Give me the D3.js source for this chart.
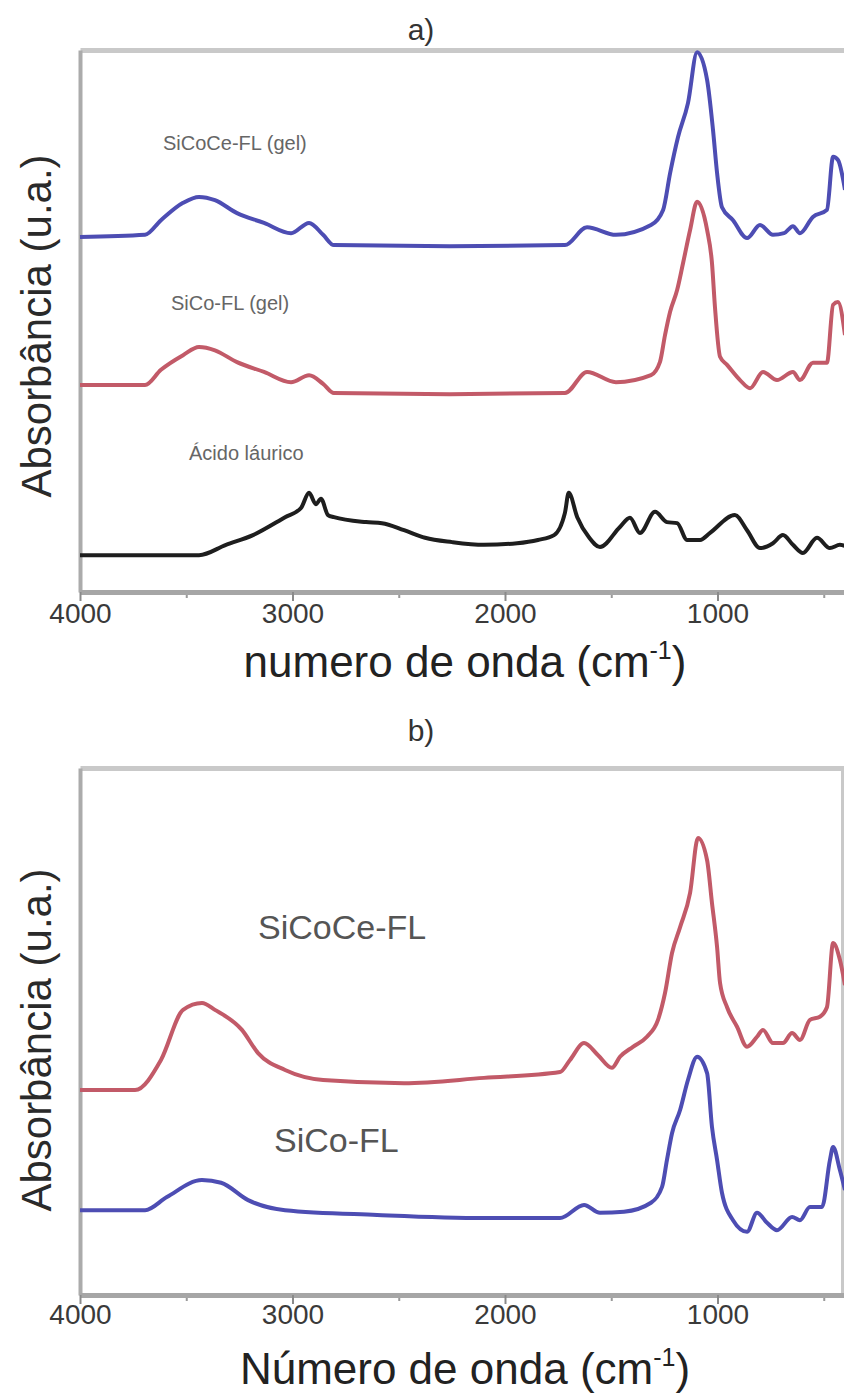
<!DOCTYPE html>
<html>
<head>
<meta charset="utf-8">
<script src="https://cdn.jsdelivr.net/npm/d3@7"></script>
<style>
  body { margin: 0; background: #fff; }
  text { font-family: "Liberation Sans", Arial, sans-serif; }
</style>
</head>
<body>
<div id="chart"></div>
<script>
// FTIR spectra, each point is [wavenumber (cm-1), absorbance with vertical offset (u.a.)]

// panel a
var siCoCeGel = [[4000,6.55],[3694,6.59],[3619,6.86],[3515,7.18],[3440,7.29],[3365,7.23],[3261,6.99],
  [3134,6.81],[3007,6.62],[2922,6.81],[2856,6.59],[2805,6.40],[2259,6.38],[1718,6.40],[1614,6.73],
  [1478,6.59],[1313,6.77],[1256,7.05],[1223,7.73],[1186,8.39],[1139,9.02],[1096,9.96],[1049,9.45],
  [1021,8.52],[1002,7.73],[979,7.10],[927,6.86],[861,6.53],[800,6.77],[739,6.59],[687,6.62],
  [645,6.75],[612,6.62],[551,6.92],[485,7.05],[456,8.03],[433,7.97],[400,7.42]];

var siCoGel = [[4000,3.82],[3694,3.82],[3619,4.10],[3515,4.37],[3440,4.52],[3365,4.46],[3261,4.24],
  [3134,4.06],[3007,3.87],[2922,4.00],[2856,3.84],[2805,3.67],[2259,3.65],[1718,3.67],[1614,4.06],
  [1478,3.87],[1313,4.00],[1271,4.24],[1247,4.74],[1223,5.17],[1190,5.57],[1162,6.07],[1129,6.68],
  [1096,7.20],[1049,6.68],[1026,6.07],[1012,5.26],[988,4.34],[955,4.19],[894,3.91],[847,3.76],
  [786,4.06],[720,3.91],[645,4.06],[612,3.91],[551,4.23],[485,4.23],[456,5.30],[433,5.35],[400,4.74]];

var acidoLaurico = [[4000,0.68],[3440,0.68],[3313,0.87],[3186,1.05],[3035,1.38],[2960,1.55],
  [2922,1.83],[2890,1.62],[2866,1.72],[2833,1.42],[2805,1.38],[2654,1.29],[2579,1.27],[2475,1.14],
  [2376,1.00],[2249,0.92],[2099,0.87],[1943,0.90],[1845,0.96],[1769,1.05],[1718,1.46],[1700,1.83],
  [1660,1.38],[1605,1.01],[1553,0.83],[1459,1.20],[1412,1.37],[1365,1.09],[1294,1.48],[1238,1.29],
  [1190,1.27],[1143,0.96],[1082,0.96],[1035,1.09],[918,1.42],[861,1.14],[800,0.81],[739,0.90],
  [692,1.05],[645,0.87],[598,0.72],[532,1.00],[471,0.81],[424,0.87],[400,0.85]];

// panel b
var siCoCe = [[4000,3.89],[3741,3.89],[3619,4.46],[3515,5.41],[3426,5.54],[3365,5.41],[3238,5.03],
  [3162,4.59],[3035,4.27],[2856,4.08],[2475,4.02],[2099,4.12],[1741,4.23],[1694,4.46],[1628,4.78],
  [1562,4.55],[1497,4.31],[1459,4.52],[1398,4.71],[1332,4.90],[1280,5.22],[1247,5.73],[1214,6.49],
  [1176,6.98],[1129,7.63],[1092,8.67],[1049,8.25],[1026,7.44],[1002,6.60],[988,5.92],[955,5.46],
  [908,5.09],[861,4.71],[814,4.90],[786,5.03],[739,4.78],[692,4.78],[649,4.97],[612,4.84],
  [565,5.22],[518,5.28],[485,5.46],[456,6.68],[424,6.36],[400,5.88]];

var siCo = [[4000,1.61],[3694,1.61],[3591,1.86],[3426,2.18],[3336,2.13],[3209,1.80],[3035,1.61],
  [2602,1.52],[2099,1.46],[1741,1.46],[1628,1.71],[1553,1.56],[1440,1.58],[1313,1.75],[1261,2.05],
  [1238,2.56],[1214,3.07],[1176,3.51],[1139,4.08],[1096,4.52],[1049,4.21],[1026,3.19],[1002,2.56],
  [979,1.94],[927,1.42],[861,1.20],[814,1.56],[767,1.37],[720,1.23],[649,1.48],[612,1.42],
  [565,1.67],[508,1.67],[471,2.56],[456,2.81],[424,2.37],[400,1.99]];

var majorTicks = [4000, 3000, 2000, 1000];
var minorTicks = [3500, 2500, 1500, 500];

var svgWidth = 844;
var svgHeight = 1396;

var svg = d3.select("#chart")
  .append("svg")
  .attr("width", svgWidth)
  .attr("height", svgHeight);

// shared wavenumber scale (high to low, left to right)
var xScale = d3.scaleLinear()
  .domain([4000, 400])
  .range([80, 845]);

var line = d3.line()
  .x(function(d){ return xScale(d[0]); })
  .curve(d3.curveMonotoneX);

var panels = [
  {
    title: "a)", titleY: 40, top: 50, bottom: 592, rightBorder: false,
    xTitle: "numero de onda (cm", xTitleY: 677, tickY: 31, yLabelY: 326,
    labelSize: 20, labelColor: "#666",
    series: [
      {data: siCoCeGel, color: "#4d4db3", label: "SiCoCe-FL (gel)", lx: 163, ly: 150},
      {data: siCoGel, color: "#c25a68", label: "SiCo-FL (gel)", lx: 171, ly: 310},
      {data: acidoLaurico, color: "#1e1e1e", label: "Ácido láurico", lx: 189, ly: 460}
    ]
  },
  {
    title: "b)", titleY: 741, top: 768, bottom: 1295, rightBorder: true,
    xTitle: "Número de onda (cm", xTitleY: 1384, tickY: 29, yLabelY: 1040,
    labelSize: 34, labelColor: "#555",
    series: [
      {data: siCoCe, color: "#c25a68", label: "SiCoCe-FL", lx: 258, ly: 939},
      {data: siCo, color: "#4d4db3", label: "SiCo-FL", lx: 274, ly: 1152}
    ]
  }
];

panels.forEach(function(p){
  var yScale = d3.scaleLinear()
    .domain([0, 10])
    .range([p.bottom, p.top]);

  var g = svg.append("g");

  // frame: top border, left axis, optional right border
  g.append("g")
    .attr("transform", "translate(0," + p.top + ")")
    .call(d3.axisTop(xScale).tickValues([]).tickSizeOuter(0))
    .select(".domain").attr("stroke", "#c9c9c9").attr("stroke-width", 5);

  g.append("g")
    .attr("transform", "translate(80,0)")
    .call(d3.axisLeft(yScale).tickValues([]).tickSizeOuter(0))
    .select(".domain").attr("stroke", "#ababab").attr("stroke-width", 4);

  if (p.rightBorder) {
    g.append("g")
      .attr("transform", "translate(842,0)")
      .call(d3.axisRight(yScale).tickValues([]).tickSizeOuter(0))
      .select(".domain").attr("stroke", "#c9c9c9").attr("stroke-width", 3);
  }

  // bottom axis with major and minor ticks
  var minorAxis = g.append("g")
    .attr("transform", "translate(0," + p.bottom + ")")
    .call(d3.axisBottom(xScale).tickValues(minorTicks).tickSize(6).tickSizeOuter(0).tickFormat(""));
  minorAxis.select(".domain").remove();
  minorAxis.selectAll(".tick line").attr("stroke", "#9a9a9a").attr("stroke-width", 2);

  var majorAxis = g.append("g")
    .attr("transform", "translate(0," + p.bottom + ")")
    .call(d3.axisBottom(xScale).tickValues(majorTicks).tickSize(9).tickSizeOuter(0).tickFormat(d3.format("d")));
  majorAxis.select(".domain").attr("stroke", "#a6a6a6").attr("stroke-width", 5);
  majorAxis.selectAll(".tick line").attr("stroke", "#8a8a8a").attr("stroke-width", 2);
  majorAxis.selectAll(".tick text")
    .attr("y", p.tickY)
    .attr("dy", 0)
    .attr("fill", "#3a3a3a")
    .style("font-size", "28px")
    .style("font-family", "'Liberation Sans', Arial, sans-serif");

  // spectra
  p.series.forEach(function(s){
    g.append("path")
      .datum(s.data)
      .attr("fill", "none")
      .attr("stroke", s.color)
      .attr("stroke-width", 4)
      .attr("stroke-linejoin", "round")
      .attr("d", line.y(function(d){ return yScale(d[1]); }));

    g.append("text")
      .attr("x", s.lx)
      .attr("y", s.ly)
      .attr("fill", p.labelColor)
      .style("font-size", p.labelSize + "px")
      .text(s.label);
  });

  // panel title
  g.append("text")
    .attr("x", 421)
    .attr("y", p.titleY)
    .attr("text-anchor", "middle")
    .attr("fill", "#333")
    .style("font-size", "30px")
    .text(p.title);

  // x axis title with superscript
  var xt = g.append("text")
    .attr("x", 465)
    .attr("y", p.xTitleY)
    .attr("text-anchor", "middle")
    .attr("fill", "#222")
    .style("font-size", "44px");
  xt.append("tspan").text(p.xTitle);
  xt.append("tspan").attr("dy", -18).style("font-size", "25px").text("-1");
  xt.append("tspan").attr("dy", 18).text(")");

  // y axis title
  g.append("text")
    .attr("transform", "translate(51," + p.yLabelY + ") rotate(-90)")
    .attr("text-anchor", "middle")
    .attr("fill", "#2a2a2a")
    .style("font-size", "42px")
    .text("Absorbância (u.a.)");
});
</script>
</body>
</html>
